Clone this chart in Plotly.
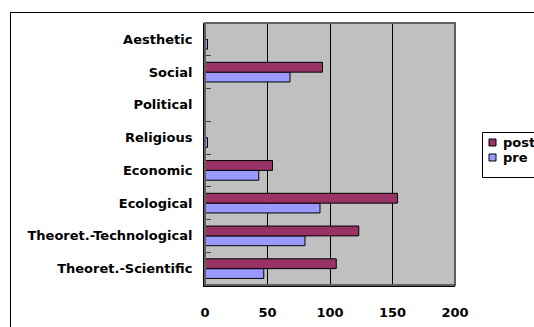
import plotly.graph_objects as go

categories = ["Theoret.-Scientific", "Theoret.-Technological", "Ecological", "Economic",
              "Religious", "Political", "Social", "Aesthetic"]
pre_values = [47, 80, 92, 43, 2, 0, 68, 2]
post_values = [105, 123, 154, 54, 0, 0, 94, 0]
x_ticks = [0, 50, 100, 150, 200]
series_names = ["post", "pre"]
series_colors = {"post": "#993366", "pre": "#9999FF"}

font = dict(family="DejaVu Sans", size=13, color="black", weight="bold")

W, H = 534, 327
ML, MT = 10, 12               # outer chart frame (top-left corner)
AW, AH = W - ML, H - MT       # paper plotting region
PL, PR, PT, PB = 205, 455, 23, 285   # bar plot area in pixels


def px(x):
    return (x - ML) / AW


def py(y):
    return (H - y) / AH


fig = go.Figure()
fig.add_trace(go.Bar(y=categories, x=pre_values, name="pre", orientation="h",
                     marker=dict(color=series_colors["pre"], line=dict(color="black", width=1))))
fig.add_trace(go.Bar(y=categories, x=post_values, name="post", orientation="h",
                     marker=dict(color=series_colors["post"], line=dict(color="black", width=1))))

fig.update_layout(
    width=W, height=H,
    margin=dict(l=ML, r=0, t=MT, b=0, pad=0),
    paper_bgcolor="white", plot_bgcolor="#C0C0C0",
    barmode="group", bargap=0.4, bargroupgap=0,
    font=font,
    showlegend=False,
    xaxis=dict(domain=[px(PL), px(PR)], anchor="y", automargin=False,
               range=[0, 200], tickvals=x_ticks, ticktext=[str(v) for v in x_ticks],
               showgrid=True, gridcolor="black", gridwidth=1, zeroline=False,
               showline=True, linecolor="black", linewidth=2, ticks="",
               ticklabelstandoff=14, tickfont=font, fixedrange=True),
    yaxis=dict(domain=[py(PB), py(PT)], anchor="x", automargin=False,
               categoryorder="array", categoryarray=categories, showgrid=False,
               zeroline=False, showline=True, linecolor="black", linewidth=2,
               ticks="inside", ticklen=6, tickcolor="#404040", tickson="boundaries",
               ticklabelstandoff=8, tickfont=font, fixedrange=True),
)

# plot area border
fig.add_shape(type="rect", xref="x domain", yref="y domain", x0=0, x1=1, y0=0, y1=1,
              line=dict(color="#606060", width=2), layer="above")

# legend box
fig.add_shape(type="rect", xref="paper", yref="paper", x0=px(482.5), x1=px(W + 10),
              y0=py(177.5), y1=py(132.5), line=dict(color="black", width=1),
              fillcolor="white")
for i, name in enumerate(series_names):
    cy = 142.5 + i * 15
    fig.add_shape(type="rect", xref="paper", yref="paper", x0=px(489), x1=px(496),
                  y0=py(cy + 3.5), y1=py(cy - 3.5),
                  line=dict(color="black", width=1), fillcolor=series_colors[name])
    fig.add_annotation(text=name, xref="paper", yref="paper", x=px(501), y=py(cy),
                       xanchor="left", yanchor="middle", showarrow=False,
                       font=font)

# outer chart frame (top and left edges; right/bottom lie outside the picture)
frame_js = (
    "var gd = document.getElementById('{plot_id}');"
    "gd.style.position = 'relative';"
    "var fr = document.createElement('div');"
    "fr.style.cssText = 'position:absolute;left:%dpx;top:%dpx;width:%dpx;height:%dpx;"
    "border-top:1px solid #000;border-left:1px solid #000;box-sizing:border-box;"
    "pointer-events:none;z-index:10;';"
    "gd.appendChild(fr);"
) % (ML, MT, AW, AH)

fig.write_html("out.html", post_script=frame_js)
